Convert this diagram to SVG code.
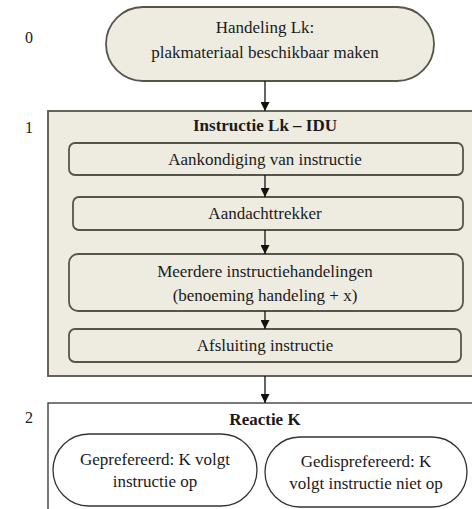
<svg xmlns="http://www.w3.org/2000/svg" width="472" height="509" viewBox="0 0 472 509">
<defs>
<style>
text{font-family:'Liberation Serif','Times New Roman','DejaVu Serif',serif;font-size:17px;fill:#1a1a1a;text-anchor:middle}
.lbl{text-anchor:start;font-size:16px}
.b{font-weight:bold}
.tan{fill:#EEECE1;stroke:#55554c;stroke-width:1.8}
.wh{fill:#fff;stroke:#333;stroke-width:1.3}
.conn{stroke:#111;stroke-width:1.3;fill:none;marker-end:url(#ah)}
</style>
<marker id="ah" viewBox="0 0 10 10" refX="10" refY="5" markerWidth="9" markerHeight="9" markerUnits="userSpaceOnUse" orient="auto"><path d="M0,0L10,5L0,10z" fill="#111"/></marker>
</defs>
<rect width="472" height="509" fill="#fff"/>
<g font-family="Liberation Serif, Times New Roman, DejaVu Serif, serif">
<text class="lbl" x="25" y="43">0</text>
<text class="lbl" x="25" y="133">1</text>
<text class="lbl" x="25" y="423">2</text>
<g id="n0">
<rect class="tan" x="106" y="7" width="328" height="74" rx="37"/>
<text x="265" y="33">Handeling Lk:</text>
<text x="265" y="58">plakmateriaal beschikbaar maken</text>
</g>
<g id="n1">
<rect class="tan" x="48" y="111" width="430" height="265"/>
<text class="b" x="265" y="131">Instructie Lk – IDU</text>
</g>
<g id="n1a">
<rect class="tan" x="69" y="143" width="394" height="32" rx="6"/>
<text x="265" y="165">Aankondiging van instructie</text>
</g>
<g id="n1b">
<rect class="tan" x="73" y="197" width="390" height="33" rx="6"/>
<text x="265" y="219">Aandachttrekker</text>
</g>
<g id="n1c">
<rect class="tan" x="69" y="254" width="394" height="57" rx="9"/>
<text x="265" y="277">Meerdere instructiehandelingen</text>
<text x="265" y="301">(benoeming handeling + x)</text>
</g>
<g id="n1d">
<rect class="tan" x="69" y="329" width="392" height="33" rx="6"/>
<text x="265" y="351">Afsluiting instructie</text>
</g>
<g id="n2">
<rect class="wh" x="48" y="403" width="430" height="120"/>
<text class="b" x="265" y="425">Reactie K</text>
</g>
<g id="n2a">
<rect class="wh" x="53" y="434" width="204" height="72" rx="36"/>
<text x="155" y="465">Geprefereerd: K volgt</text>
<text x="155" y="487">instructie op</text>
</g>
<g id="n2b">
<rect class="wh" x="265" y="437" width="202" height="70" rx="35"/>
<text x="366" y="467">Gedisprefereerd: K</text>
<text x="366" y="489">volgt instructie niet op</text>
</g>
</g>
<g id="connectors">
<path class="conn" d="M265,81V111"/>
<path class="conn" d="M265,175V197"/>
<path class="conn" d="M265,230V254"/>
<path class="conn" d="M265,311V329"/>
<path class="conn" d="M265,376V403"/>
</g>
</svg>
